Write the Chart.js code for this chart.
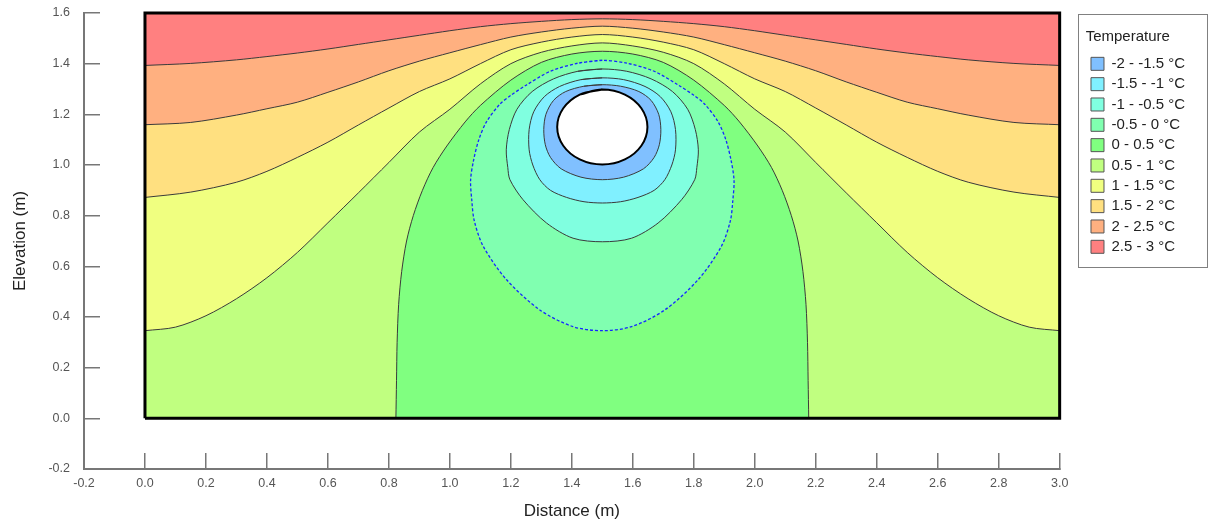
<!DOCTYPE html>
<html>
<head>
<meta charset="utf-8">
<script src="https://cdn.jsdelivr.net/npm/chart.js@4.4.1/dist/chart.umd.min.js"></script>
<style>
  html, body { margin: 0; background: #fff; }
  #wrap { width: 1210px; height: 523px; }
</style>
</head>
<body>
<div id="wrap"><canvas id="myChart"></canvas></div>
<script>
// axis ticks
const xTicks = [-0.2, 0.0, 0.2, 0.4, 0.6, 0.8, 1.0, 1.2, 1.4, 1.6, 1.8, 2.0, 2.2, 2.4, 2.6, 2.8, 3.0]
const yTicks = [-0.2, 0.0, 0.2, 0.4, 0.6, 0.8, 1.0, 1.2, 1.4, 1.6]

// temperature bands (legend order)
const bandLabels = ['-2 - -1.5 °C', '-1.5 - -1 °C', '-1 - -0.5 °C', '-0.5 - 0 °C', '0 - 0.5 °C',
  '0.5 - 1 °C', '1 - 1.5 °C', '1.5 - 2 °C', '2 - 2.5 °C', '2.5 - 3 °C']
const bandColors = ['#80c0ff', '#80f0ff', '#80ffe0', '#80ffb0', '#80ff80',
  '#c0ff80', '#f0ff80', '#ffe080', '#ffb080', '#ff8080']

// model domain outline (m)
const domain = [[0, 0], [0, 1.6], [3, 1.6], [3, 0], [0, 0]]

// contour lines, [distance, elevation]
const c25 = [[0, 1.393], [0.15, 1.401], [0.3, 1.415], [0.4, 1.428], [0.5, 1.442], [0.6, 1.458], [0.7, 1.476],
  [0.8, 1.494], [0.9, 1.512], [1.0, 1.53], [1.1, 1.546], [1.2, 1.558], [1.3, 1.567], [1.4, 1.574], [1.5, 1.577],
  [1.6, 1.574], [1.7, 1.567], [1.8, 1.558], [1.9, 1.546], [2.0, 1.53], [2.1, 1.512], [2.2, 1.494], [2.3, 1.476],
  [2.4, 1.458], [2.5, 1.442], [2.6, 1.428], [2.7, 1.415], [2.85, 1.401], [3.0, 1.393]]
const c20 = [[0, 1.159], [0.15, 1.168], [0.3, 1.197], [0.4, 1.222], [0.5, 1.248], [0.6, 1.287], [0.7, 1.328],
  [0.8, 1.372], [0.9, 1.41], [1.0, 1.443], [1.1, 1.475], [1.2, 1.505], [1.3, 1.525], [1.4, 1.54], [1.5, 1.548],
  [1.6, 1.54], [1.7, 1.525], [1.8, 1.505], [1.9, 1.475], [2.0, 1.443], [2.1, 1.41], [2.2, 1.372], [2.3, 1.328],
  [2.4, 1.287], [2.5, 1.248], [2.6, 1.222], [2.7, 1.197], [2.85, 1.168], [3.0, 1.159]]
const c15 = [[0, 0.872], [0.15, 0.893], [0.3, 0.932], [0.4, 0.975], [0.5, 1.03], [0.6, 1.09], [0.7, 1.158],
  [0.8, 1.225], [0.9, 1.29], [1.0, 1.34], [1.1, 1.4], [1.2, 1.455], [1.3, 1.485], [1.4, 1.505], [1.5, 1.515],
  [1.6, 1.505], [1.7, 1.485], [1.8, 1.455], [1.9, 1.4], [2.0, 1.34], [2.1, 1.29], [2.2, 1.225], [2.3, 1.158],
  [2.4, 1.09], [2.5, 1.03], [2.6, 0.975], [2.7, 0.932], [2.85, 0.893], [3.0, 0.872]]
const c10 = [[0, 0.346], [0.1, 0.36], [0.2, 0.405], [0.3, 0.472], [0.4, 0.555], [0.5, 0.655], [0.6, 0.772],
  [0.7, 0.89], [0.8, 1.01], [0.9, 1.13], [1.0, 1.22], [1.1, 1.32], [1.2, 1.4], [1.3, 1.445], [1.4, 1.47], [1.5, 1.482],
  [1.6, 1.47], [1.7, 1.445], [1.8, 1.4], [1.9, 1.32], [2.0, 1.22], [2.1, 1.13], [2.2, 1.01], [2.3, 0.89],
  [2.4, 0.772], [2.5, 0.655], [2.6, 0.555], [2.7, 0.472], [2.8, 0.405], [2.9, 0.36], [3.0, 0.346]]
const c05 = [[0.823, 0], [0.825, 0.15], [0.827, 0.3], [0.832, 0.45], [0.842, 0.58], [0.858, 0.7], [0.88, 0.8],
  [0.91, 0.9], [0.945, 0.99], [0.99, 1.075], [1.05, 1.17], [1.1, 1.235], [1.2, 1.335], [1.3, 1.405], [1.4, 1.438],
  [1.5, 1.449], [1.6, 1.438], [1.7, 1.405], [1.8, 1.335], [1.9, 1.235], [1.95, 1.17], [2.01, 1.075], [2.055, 0.99],
  [2.09, 0.9], [2.12, 0.8], [2.142, 0.7], [2.158, 0.58], [2.168, 0.45], [2.173, 0.3], [2.175, 0.15], [2.177, 0]]
const c00 = [[1.5, 1.413], [1.42, 1.402], [1.33, 1.37], [1.25, 1.315], [1.2, 1.275], [1.164, 1.24], [1.12, 1.17],
  [1.095, 1.1], [1.078, 1.02], [1.068, 0.94], [1.072, 0.86], [1.08, 0.78], [1.11, 0.678], [1.186, 0.547],
  [1.295, 0.428], [1.404, 0.362], [1.5, 0.346], [1.596, 0.362], [1.705, 0.428], [1.814, 0.547], [1.89, 0.678],
  [1.92, 0.78], [1.928, 0.86], [1.932, 0.94], [1.922, 1.02], [1.905, 1.1], [1.88, 1.17], [1.836, 1.24],
  [1.8, 1.275], [1.75, 1.315], [1.67, 1.37], [1.58, 1.402], [1.5, 1.413]]
const cm05 = [[1.5, 1.379], [1.42, 1.37], [1.34, 1.34], [1.27, 1.29], [1.22, 1.22], [1.195, 1.14], [1.185, 1.06],
  [1.19, 0.99], [1.197, 0.942], [1.24, 0.863], [1.317, 0.771], [1.404, 0.711], [1.5, 0.697], [1.596, 0.711],
  [1.683, 0.771], [1.76, 0.863], [1.803, 0.942], [1.81, 0.99], [1.815, 1.06], [1.805, 1.14], [1.78, 1.22],
  [1.73, 1.29], [1.66, 1.34], [1.58, 1.37], [1.5, 1.379]]
const cm10 = [[1.5, 1.344], [1.43, 1.337], [1.36, 1.31], [1.31, 1.27], [1.275, 1.21], [1.26, 1.14], [1.26, 1.06],
  [1.272, 1.0], [1.295, 0.942], [1.33, 0.9], [1.383, 0.872], [1.44, 0.855], [1.5, 0.85], [1.56, 0.855],
  [1.617, 0.872], [1.67, 0.9], [1.705, 0.942], [1.728, 1.0], [1.74, 1.06], [1.74, 1.14], [1.725, 1.21],
  [1.69, 1.27], [1.64, 1.31], [1.57, 1.337], [1.5, 1.344]]
const cm15 = [[1.5, 1.317], [1.44, 1.311], [1.38, 1.29], [1.34, 1.255], [1.315, 1.2], [1.308, 1.14], [1.313, 1.08],
  [1.33, 1.03], [1.365, 0.985], [1.43, 0.952], [1.5, 0.942], [1.57, 0.952], [1.635, 0.985], [1.67, 1.03],
  [1.687, 1.08], [1.692, 1.14], [1.685, 1.2], [1.66, 1.255], [1.62, 1.29], [1.56, 1.311], [1.5, 1.317]]
const pipe = [[1.5, 1.298], [1.426, 1.278], [1.372, 1.224], [1.352, 1.15], [1.372, 1.076], [1.426, 1.022],
  [1.5, 1.002], [1.574, 1.022], [1.628, 1.076], [1.648, 1.15], [1.628, 1.224], [1.574, 1.278], [1.5, 1.298]]

const FONT = "'Liberation Sans', Arial, sans-serif"
const LINE = '#3a3a3a'

function layer(pts, fill, color, extra) {
  // closed outlines run one point past the start so the curve joins smoothly
  const path = fill === 'shape' && pts.length > 6 ? pts.concat([pts[1]]) : pts
  return Object.assign({
    data: path.map(p => ({ x: p[0], y: p[1] })),
    showLine: true,
    pointRadius: 0,
    pointHoverRadius: 0,
    borderColor: LINE,
    borderWidth: 1,
    tension: 0.3,
    fill: fill,
    backgroundColor: color
  }, extra || {})
}

// bottom to top
const layers = [
  layer(domain, 'shape', bandColors[5], { borderWidth: 0, tension: 0 }),
  layer(c10, 'end', bandColors[6]),
  layer(c15, 'end', bandColors[7]),
  layer(c20, 'end', bandColors[8]),
  layer(c25, 'end', bandColors[9]),
  layer(c05, { value: 0 }, bandColors[4]),
  layer(c00, 'shape', bandColors[3], { borderColor: '#1428ff', borderWidth: 1.3, borderDash: [3, 2] }),
  layer(cm05, 'shape', bandColors[2]),
  layer(cm10, 'shape', bandColors[1]),
  layer(cm15, 'shape', bandColors[0]),
  layer(pipe, 'shape', '#ffffff', { borderColor: '#000', borderWidth: 2, tension: 0.4 }),
  layer(domain, false, 'transparent', { borderColor: '#000', borderWidth: 3, tension: 0, clip: false })
]
layers.forEach((d, i) => { d.order = layers.length - i })

// frame around the legend
const legendBox = {
  id: 'legendBox',
  afterDraw(chart) {
    const lg = chart.legend
    const boxes = lg.legendHitBoxes
    if (!boxes || !boxes.length) return
    const last = boxes[boxes.length - 1]
    const ctx = chart.ctx
    ctx.save()
    ctx.strokeStyle = '#808080'
    ctx.lineWidth = 1
    const l = Math.round(boxes[0].left - 13) + 0.5
    const t = Math.round(lg.top + 1) + 0.5
    const r = Math.round(lg.right + 12) + 0.5
    const b = Math.round(last.top + last.height + 13) + 0.5
    ctx.strokeRect(l, t, r - l, b - t)
    ctx.restore()
  }
}

Chart.defaults.font.family = FONT

new Chart(document.getElementById('myChart'), {
  type: 'scatter',
  data: { datasets: layers },
  plugins: [legendBox],
  options: {
    responsive: true,
    maintainAspectRatio: false,
    animation: false,
    devicePixelRatio: 1,
    events: [],
    layout: { padding: { left: 2, right: 15, top: 13, bottom: 1 } },
    scales: {
      x: {
        type: 'linear',
        min: -0.2,
        max: 3.0,
        afterBuildTicks: s => { s.ticks = xTicks.map(v => ({ value: v })) },
        afterFit: s => { s.height = 53; s.paddingLeft = 0; s.paddingRight = 0 },
        ticks: { callback: v => v.toFixed(1), color: '#555', font: { size: 12.5 }, padding: 23, maxRotation: 0 },
        grid: { drawOnChartArea: false, drawTicks: true, tickLength: -16, color: '#777', lineWidth: 1.5 },
        border: { display: true, color: '#777', width: 2 },
        title: { display: true, text: 'Distance (m)', color: '#222', font: { size: 17 }, padding: { top: 0, bottom: 0 } }
      },
      y: {
        type: 'linear',
        min: -0.2,
        max: 1.6,
        afterBuildTicks: s => { s.ticks = yTicks.map(v => ({ value: v })) },
        afterFit: s => { s.width = 82; s.paddingTop = 0; s.paddingBottom = 0 },
        ticks: { callback: v => v.toFixed(1), color: '#555', font: { size: 12.5 }, padding: 30 },
        grid: { drawOnChartArea: false, drawTicks: true, tickLength: -16, color: '#777', lineWidth: 1.5 },
        border: { display: true, color: '#777', width: 2 },
        title: { display: true, text: 'Elevation (m)', color: '#222', font: { size: 17 }, padding: { top: 8, bottom: 0 } }
      },
      // empty spacer between plot and legend
      gap: {
        type: 'linear',
        position: 'right',
        min: 0,
        max: 1,
        ticks: { display: false },
        grid: { display: false, drawTicks: false },
        border: { display: false },
        afterFit: s => { s.width = 26; s.paddingTop = 0; s.paddingBottom = 0 }
      }
    },
    plugins: {
      tooltip: { enabled: false },
      legend: {
        position: 'right',
        align: 'start',
        onClick: null,
        title: { display: true, text: 'Temperature', color: '#222', font: { size: 15 }, position: 'start', padding: { top: 16, bottom: 4 } },
        labels: {
          boxWidth: 13,
          boxHeight: 13,
          padding: 5.33,
          color: '#222',
          font: { size: 15 },
          generateLabels: () => bandLabels.map((t, i) => ({
            text: t, fillStyle: bandColors[i], strokeStyle: '#555', lineWidth: 1, hidden: false
          }))
        }
      }
    }
  }
})
</script>
</body>
</html>
